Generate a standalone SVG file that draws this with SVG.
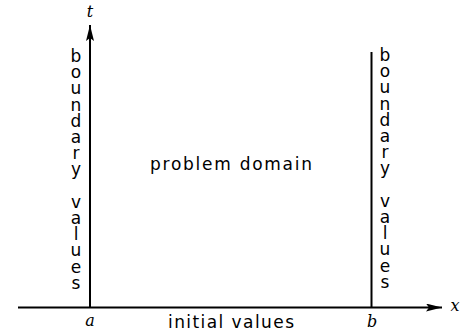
<svg xmlns="http://www.w3.org/2000/svg" width="467" height="333" viewBox="0 0 467 333">
<style>
.ln{stroke:#000;stroke-width:2;fill:none}
.sf{font-family:"DejaVu Sans","Liberation Sans",sans-serif;font-size:17px;fill:#000}
.it{font-family:"DejaVu Serif","Liberation Serif",serif;font-style:italic;font-size:16px;fill:#000}
.col{text-anchor:middle}
</style>
<defs>
<marker id="ah" viewBox="0 0 16 8" refX="16" refY="4" markerWidth="16" markerHeight="8" markerUnits="userSpaceOnUse" orient="auto">
<path d="M0,0 L16,4 L0,8 L3,4 Z" fill="#000"/>
</marker>
</defs>
<g id="connectors">
<line class="ln" x1="18" y1="307.5" x2="442" y2="307.5" marker-end="url(#ah)"/>
<line class="ln" x1="90" y1="307.5" x2="90" y2="25" marker-end="url(#ah)"/>
<line class="ln" x1="371.5" y1="307.5" x2="371.5" y2="52"/>
</g>
<g id="label-t"><text class="it" x="90" y="17" text-anchor="middle">t</text></g>
<g id="label-x"><text class="it" x="455" y="311" text-anchor="middle">x</text></g>
<g id="label-a"><text class="it" x="90" y="326" text-anchor="middle">a</text></g>
<g id="label-b"><text class="it" x="372" y="327" text-anchor="middle">b</text></g>
<g id="problem-domain"><text class="sf" x="150" y="170" textLength="162" lengthAdjust="spacing">problem domain</text></g>
<g id="initial-values"><text class="sf" x="168" y="328" textLength="126" lengthAdjust="spacing">initial values</text></g>
<g id="left-boundary">
<text class="sf col"><tspan x="76" y="62">b</tspan><tspan x="76" y="78.2">o</tspan><tspan x="76" y="94.4">u</tspan><tspan x="76" y="110.6">n</tspan><tspan x="76" y="126.8">d</tspan><tspan x="76" y="143">a</tspan><tspan x="76" y="159.2">r</tspan><tspan x="76" y="175.4">y</tspan><tspan x="76" y="207.8">v</tspan><tspan x="76" y="224">a</tspan><tspan x="76" y="240.2">l</tspan><tspan x="76" y="256.4">u</tspan><tspan x="76" y="272.6">e</tspan><tspan x="76" y="288.8">s</tspan></text>
</g>
<g id="right-boundary">
<text class="sf col"><tspan x="385" y="61">b</tspan><tspan x="385" y="77.2">o</tspan><tspan x="385" y="93.4">u</tspan><tspan x="385" y="109.6">n</tspan><tspan x="385" y="125.8">d</tspan><tspan x="385" y="142">a</tspan><tspan x="385" y="158.2">r</tspan><tspan x="385" y="174.4">y</tspan><tspan x="385" y="206.8">v</tspan><tspan x="385" y="223">a</tspan><tspan x="385" y="239.2">l</tspan><tspan x="385" y="255.4">u</tspan><tspan x="385" y="271.6">e</tspan><tspan x="385" y="287.8">s</tspan></text>
</g>
</svg>
